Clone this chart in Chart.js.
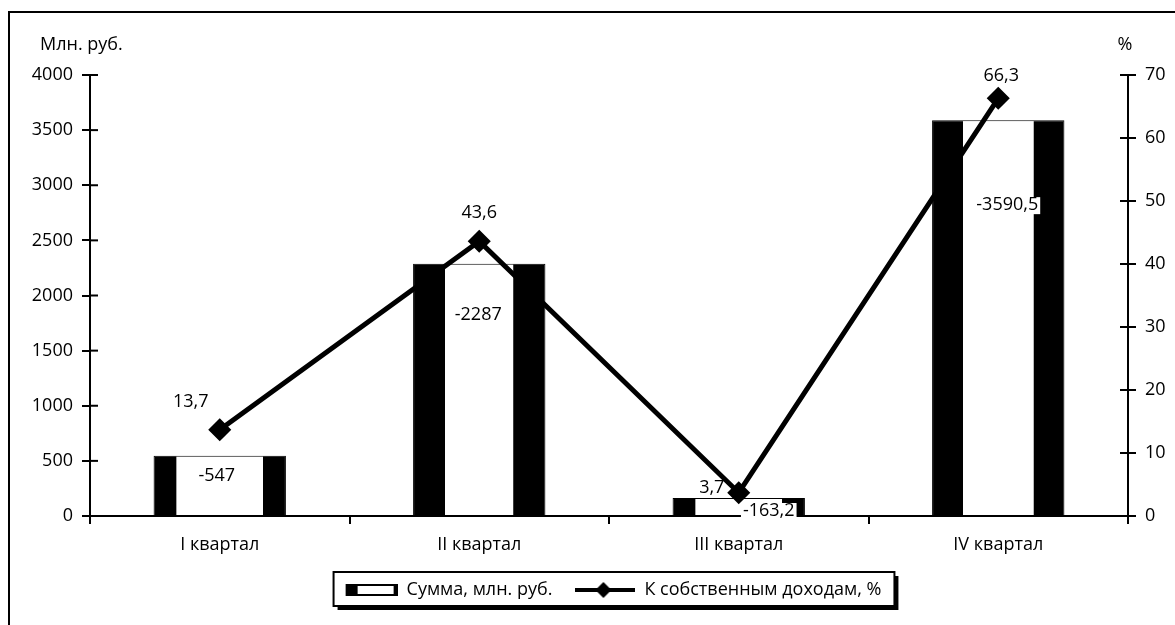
<!DOCTYPE html>
<html>
<head>
<meta charset="utf-8">
<script src="https://cdn.jsdelivr.net/npm/chart.js@4.4.1/dist/chart.umd.min.js"></script>
<style>
    html, body { margin: 0; padding: 0; background: #fff; overflow: hidden; }
    #wrap { position: relative; width: 1175px; height: 625px; }
    #frame { position: absolute; left: 8px; top: 11px; width: 1300px; height: 800px; border: 2px solid #000; box-sizing: border-box; }
    canvas { position: absolute; left: 0; top: 0; }
</style>
</head>
<body>
<div id="wrap">
    <div id="frame"></div>
    <canvas id="chart" width="1175" height="625"></canvas>
</div>
<script>
    const quarters = ['I квартал', 'II квартал', 'III квартал', 'IV квартал'];
    const sumValues = [-547, -2287, -163.2, -3590.5];
    const shareValues = [13.7, 43.6, 3.7, 66.3];
    const leftTicks = [0, 500, 1000, 1500, 2000, 2500, 3000, 3500, 4000];
    const rightTicks = [0, 10, 20, 30, 40, 50, 60, 70];

    const FONT = '"Open Sans", sans-serif';
    const FS = 18;
    const fmt = v => String(v).replace('.', ',');
    const BAR_PCT = 0.51;

    // legend icons (60px wide boxes)
    function barIcon() {
        let c = document.createElement('canvas');
        c.width = 60; c.height = 12;
        let g = c.getContext('2d');
        g.fillStyle = '#000';
        g.fillRect(8, 0, 52, 12);
        g.fillStyle = '#fff';
        g.fillRect(20, 2, 36, 8);
        return c;
    }
    function lineIcon() {
        let c = document.createElement('canvas');
        c.width = 60; c.height = 16;
        let g = c.getContext('2d');
        g.strokeStyle = '#000';
        g.lineWidth = 4;
        g.beginPath(); g.moveTo(0, 8); g.lineTo(60, 8); g.stroke();
        g.fillStyle = '#000';
        g.beginPath(); g.moveTo(28, 0); g.lineTo(36, 8); g.lineTo(28, 16); g.lineTo(20, 8); g.closePath(); g.fill();
        return c;
    }

    // black sides, white middle
    const sideShare = [0.17, 0.24, 0.17, 0.23];
    function barFill(ctx) {
        let chart = ctx.chart;
        let xs = chart.scales.x;
        if (!xs || ctx.dataIndex === undefined) return '#fff';
        let cw = xs.width / quarters.length;
        let w = cw * BAR_PCT;
        let cx = xs.getPixelForValue(ctx.dataIndex);
        let s = sideShare[ctx.dataIndex];
        let gr = chart.ctx.createLinearGradient(cx - w / 2, 0, cx + w / 2, 0);
        gr.addColorStop(0, '#000');
        gr.addColorStop(s, '#000');
        gr.addColorStop(s + 0.005, '#fff');
        gr.addColorStop(1 - s - 0.005, '#fff');
        gr.addColorStop(1 - s, '#000');
        gr.addColorStop(1, '#000');
        return gr;
    }

    const barLabelShift = [[-3, 20], [-1, 51], [30, 13], [9, 85]];
    const lineLabelShift = [[-29, -28], [0, -28], [-27, -5], [3, -22]];

    const decor = {
        id: 'decor',
        afterLayout(chart) {
            // legend sits a bit right of centre
            chart.legend.left += 22;
            chart.legend.right += 22;
        },
        beforeDraw(chart) {
            let lg = chart.legend;
            if (!lg || !lg.legendHitBoxes.length) return;
            let hb = lg.legendHitBoxes;
            let x1 = Math.min(...hb.map(b => b.left)) - 4;
            let x2 = Math.max(...hb.map(b => b.left + b.width)) + 13;
            let y1 = Math.min(...hb.map(b => b.top)) - 9;
            let y2 = Math.max(...hb.map(b => b.top + b.height)) + 7;
            let c = chart.ctx;
            c.save();
            c.fillStyle = '#000';
            c.fillRect(x1 + 4, y1 + 4, x2 - x1, y2 - y1);
            c.fillStyle = '#fff';
            c.fillRect(x1, y1, x2 - x1, y2 - y1);
            c.strokeStyle = '#000';
            c.lineWidth = 2;
            c.strokeRect(x1, y1, x2 - x1, y2 - y1);
            c.restore();
        },
        afterDraw(chart) {
            let c = chart.ctx;
            let yl = chart.scales.y, yr = chart.scales.y1;
            c.save();
            c.strokeStyle = '#000';
            c.lineWidth = 2;
            leftTicks.forEach(v => {
                let y = yl.getPixelForValue(v);
                c.beginPath(); c.moveTo(yl.right, y); c.lineTo(yl.right + 8, y); c.stroke();
            });
            rightTicks.forEach(v => {
                let y = yr.getPixelForValue(v);
                c.beginPath(); c.moveTo(yr.left - 8, y); c.lineTo(yr.left, y); c.stroke();
            });
            c.fillStyle = '#000';
            c.font = FS + 'px ' + FONT;
            c.textBaseline = 'middle';
            c.textAlign = 'left';
            c.fillText('Млн. руб.', 40, 45);
            c.textAlign = 'center';
            c.fillText('%', yr.left - 3, 45);

            chart.getDatasetMeta(0).data.forEach((el, i) => {
                let t = fmt(sumValues[i]);
                let x = el.x + barLabelShift[i][0], y = el.y + barLabelShift[i][1];
                let w = c.measureText(t).width;
                c.fillStyle = '#fff';
                c.fillRect(x - w / 2 - 2, y - 8, w + 4, 17);
                c.fillStyle = '#000';
                c.fillText(t, x, y);
            });
            chart.getDatasetMeta(1).data.forEach((el, i) => {
                c.fillText(fmt(shareValues[i]), el.x + lineLabelShift[i][0], el.y + lineLabelShift[i][1]);
            });
            c.restore();
        }
    };

    const tickFont = { family: FONT, size: FS };

    new Chart(document.getElementById('chart'), {
        type: 'bar',
        data: {
            labels: quarters,
            datasets: [{
                type: 'bar',
                label: 'Сумма, млн. руб.',
                data: sumValues.map(v => Math.abs(v)),
                yAxisID: 'y',
                backgroundColor: barFill,
                borderColor: '#000',
                borderWidth: 1,
                barPercentage: BAR_PCT,
                categoryPercentage: 1,
                order: 2
            }, {
                type: 'line',
                label: 'К собственным доходам, %',
                data: shareValues,
                yAxisID: 'y1',
                borderColor: '#000',
                backgroundColor: '#000',
                borderWidth: 5,
                pointStyle: 'rectRot',
                pointRadius: 8,
                pointHoverRadius: 8,
                tension: 0,
                order: 1
            }]
        },
        options: {
            responsive: false,
            animation: false,
            devicePixelRatio: 1,
            layout: {
                padding: { top: 75, left: 0, right: 0, bottom: 16 }
            },
            scales: {
                x: {
                    grid: { drawOnChartArea: false, color: '#000', lineWidth: 2, tickLength: 8, offset: true },
                    border: { color: '#000', width: 2 },
                    ticks: { color: '#000', font: tickFont, padding: 10 },
                    afterFit: s => { s.height = 42; }
                },
                y: {
                    position: 'left',
                    min: 0,
                    max: 4000,
                    afterBuildTicks: s => { s.ticks = leftTicks.map(v => ({ value: v })); },
                    grid: { drawOnChartArea: false, color: '#000', lineWidth: 2, tickLength: 8 },
                    border: { color: '#000', width: 2 },
                    ticks: { color: '#000', font: tickFont, padding: 9, callback: v => String(v) },
                    afterFit: s => { s.width = 90; }
                },
                y1: {
                    position: 'right',
                    min: 0,
                    max: 70,
                    afterBuildTicks: s => { s.ticks = rightTicks.map(v => ({ value: v })); },
                    grid: { drawOnChartArea: false, color: '#000', lineWidth: 2, tickLength: 8 },
                    border: { color: '#000', width: 2 },
                    ticks: { color: '#000', font: tickFont, padding: 9, callback: v => String(v) },
                    afterFit: s => { s.width = 47; }
                }
            },
            plugins: {
                legend: {
                    position: 'bottom',
                    labels: {
                        color: '#000',
                        font: tickFont,
                        usePointStyle: true,
                        padding: 23,
                        pointStyleWidth: 60,
                        generateLabels: chart => chart.data.datasets.map((ds, i) => ({
                            text: ds.label,
                            pointStyle: i === 0 ? barIcon() : lineIcon(),
                            fillStyle: '#000',
                            strokeStyle: '#000',
                            lineWidth: 0,
                            hidden: false,
                            datasetIndex: i
                        }))
                    }
                },
                tooltip: { enabled: false }
            }
        },
        plugins: [decor]
    });
</script>
</body>
</html>
